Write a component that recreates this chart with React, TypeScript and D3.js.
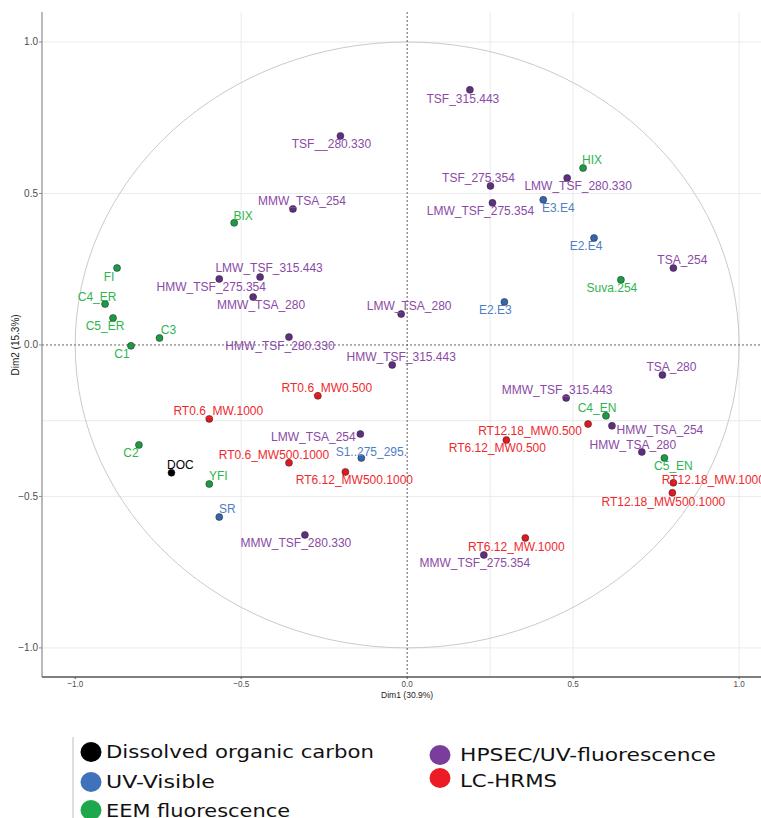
import * as d3 from 'd3'

// variable coordinates on the first two PCA dimensions: [name, Dim1, Dim2]
const docVars: [string, number, number][] = [['DOC', -0.71, -0.422]]

const uvVars: [string, number, number][] = [
  ['E3.E4', 0.41, 0.479],
  ['E2.E4', 0.563, 0.353],
  ['E2.E3', 0.293, 0.142],
  ['S1..275_295.', -0.138, -0.373],
  ['SR', -0.566, -0.568],
]

const eemVars: [string, number, number][] = [
  ['HIX', 0.53, 0.584],
  ['BIX', -0.521, 0.403],
  ['Suva.254', 0.644, 0.215],
  ['FI', -0.874, 0.254],
  ['C4_ER', -0.91, 0.135],
  ['C5_ER', -0.886, 0.089],
  ['C3', -0.746, 0.023],
  ['C1', -0.832, -0.003],
  ['C2', -0.808, -0.33],
  ['YFI', -0.596, -0.459],
  ['C4_EN', 0.599, -0.234],
  ['C5_EN', 0.775, -0.373],
]

const hpsecVars: [string, number, number][] = [
  ['TSF_315.443', 0.189, 0.842],
  ['TSF__280.330', -0.201, 0.69],
  ['TSF_275.354', 0.251, 0.525],
  ['LMW_TSF_280.330', 0.482, 0.551],
  ['LMW_TSF_275.354', 0.257, 0.469],
  ['MMW_TSA_254', -0.344, 0.449],
  ['LMW_TSF_315.443', -0.443, 0.224],
  ['HMW_TSF_275.354', -0.566, 0.218],
  ['MMW_TSA_280', -0.464, 0.158],
  ['LMW_TSA_280', -0.018, 0.102],
  ['HMW_TSF_280.330', -0.356, 0.026],
  ['HMW_TSF_315.443', -0.045, -0.066],
  ['MMW_TSF_315.443', 0.479, -0.175],
  ['TSA_280', 0.769, -0.099],
  ['TSA_254', 0.802, 0.254],
  ['HMW_TSA_254', 0.617, -0.267],
  ['HMW_TSA_280', 0.707, -0.353],
  ['LMW_TSA_254', -0.141, -0.294],
  ['MMW_TSF_280.330', -0.308, -0.627],
  ['MMW_TSF_275.354', 0.231, -0.693],
]

const lcVars: [string, number, number][] = [
  ['RT0.6_MW0.500', -0.269, -0.168],
  ['RT0.6_MW.1000', -0.596, -0.244],
  ['RT0.6_MW500.1000', -0.356, -0.389],
  ['RT6.12_MW500.1000', -0.186, -0.419],
  ['RT12.18_MW0.500', 0.545, -0.261],
  ['RT6.12_MW0.500', 0.299, -0.314],
  ['RT12.18_MW.1000', 0.802, -0.455],
  ['RT12.18_MW500.1000', 0.799, -0.488],
  ['RT6.12_MW.1000', 0.356, -0.637],
]

const groupNames = [
  'Dissolved organic carbon',
  'UV-Visible',
  'EEM fluorescence',
  'HPSEC/UV-fluorescence',
  'LC-HRMS',
]

const axisTicks = [-1, -0.5, 0, 0.5, 1]

// repel-style label nudges in px (dx, dy from the point)
const nudge: Record<string, [number, number]> = {
  'DOC': [9, -8],
  'E3.E4': [15, 8], 'E2.E4': [-8, 8], 'E2.E3': [-9, 8], 'S1..275_295.': [10, -6], 'SR': [8, -8],
  'HIX': [9, -8], 'BIX': [9, -7], 'Suva.254': [-9, 8], 'FI': [-8, 9], 'C4_ER': [-8, -7],
  'C5_ER': [-8, 8], 'C3': [9, -8], 'C1': [-9, 8], 'C2': [-8, 8], 'YFI': [9, -8],
  'C4_EN': [-9, -8], 'C5_EN': [9, 8],
  'TSF_315.443': [-7, 9], 'TSF__280.330': [-9, 8], 'TSF_275.354': [-12, -8],
  'LMW_TSF_280.330': [11, 8], 'LMW_TSF_275.354': [-12, 8], 'MMW_TSA_254': [9, -8],
  'LMW_TSF_315.443': [9, -9], 'HMW_TSF_275.354': [-8, 8], 'MMW_TSA_280': [8, 8],
  'LMW_TSA_280': [8, -8], 'HMW_TSF_280.330': [-9, 9], 'HMW_TSF_315.443': [9, -8],
  'MMW_TSF_315.443': [-9, -8], 'TSA_280': [9, -8], 'TSA_254': [9, -8],
  'HMW_TSA_254': [48, 4], 'HMW_TSA_280': [-9, -7], 'LMW_TSA_254': [-47, 3],
  'MMW_TSF_280.330': [-9, 8], 'MMW_TSF_275.354': [-9, 8],
  'RT0.6_MW0.500': [9, -8], 'RT0.6_MW.1000': [9, -8], 'RT0.6_MW500.1000': [-15, -8],
  'RT6.12_MW500.1000': [9, 8], 'RT12.18_MW0.500': [-58, 7], 'RT6.12_MW0.500': [-9, 8],
  'RT12.18_MW.1000': [40, -3], 'RT12.18_MW500.1000': [-9, 9], 'RT6.12_MW.1000': [-9, 9],
}

const groups = [
  { vars: docVars, dot: '#000000', text: '#000000', key: '#000000' },
  { vars: uvVars, dot: '#3565ad', text: '#4f80c6', key: '#3f72ba' },
  { vars: eemVars, dot: '#1c9a45', text: '#2db54e', key: '#1ea84c' },
  { vars: hpsecVars, dot: '#5f2f80', text: '#8a4aa6', key: '#7b3d9b' },
  { vars: lcVars, dot: '#e01820', text: '#ee2a2e', key: '#eb1c25' },
]

const W = 761
const H = 818
const panel = { left: 42, right: 761, top: 12, bottom: 677 }

export default function App() {
  const x = d3.scaleLinear().domain([-1.1, 1.066]).range([panel.left, panel.right])
  const y = d3.scaleLinear().domain([-1.096, 1.099]).range([panel.bottom, panel.top])
  const font = '"Liberation Sans", Arial, sans-serif'

  const legendPos = [
    { cx: 91, cy: 752, tx: 106, ty: 758, w: 268 },
    { cx: 91, cy: 782, tx: 106, ty: 788, w: 109 },
    { cx: 91, cy: 810, tx: 106, ty: 817, w: 184 },
    { cx: 440, cy: 755, tx: 460, ty: 761, w: 256 },
    { cx: 440, cy: 778, tx: 460, ty: 787, w: 97 },
  ]

  return (
    <svg width={W} height={H} style={{ position: 'absolute', left: 0, top: 0, background: '#fff' }} fontFamily={font}>
      <defs>
        <clipPath id="panel">
          <rect x={panel.left} y={panel.top} width={panel.right - panel.left} height={panel.bottom - panel.top} />
        </clipPath>
      </defs>

      {/* grid lines */}
      {[-0.5, 0.25, 0.5, 1].map(v => (
        <line key={'gx' + v} x1={x(v)} x2={x(v)} y1={panel.top} y2={panel.bottom} stroke="#ebebeb" />
      ))}
      {[1, 0.5, -0.25, -0.5, -1].map(v => (
        <line key={'gy' + v} x1={panel.left} x2={panel.right} y1={y(v)} y2={y(v)} stroke="#ebebeb" />
      ))}

      {/* correlation circle */}
      <ellipse cx={x(0)} cy={y(0)} rx={x(1) - x(0)} ry={y(0) - y(1)} fill="none" stroke="#c4c4c4" strokeWidth={0.9} />

      {/* zero lines */}
      <line x1={x(0)} x2={x(0)} y1={panel.top} y2={panel.bottom} stroke="#333" strokeWidth={0.8} strokeDasharray="2,2" />
      <line x1={panel.left} x2={panel.right} y1={y(0)} y2={y(0)} stroke="#555" strokeWidth={0.9} strokeDasharray="2,2" />

      {/* points and labels */}
      <g clipPath="url(#panel)">
        {groups.map((g, gi) =>
          g.vars.map(([name, d1, d2]) => (
            <circle key={gi + name} cx={x(d1)} cy={y(d2)} r={3.5} fill={g.dot} stroke="#222" strokeWidth={0.5} />
          ))
        )}
        {groups.map((g, gi) =>
          g.vars.map(([name, d1, d2]) => {
            const [dx, dy] = nudge[name] || [0, -8]
            return (
              <text key={'l' + gi + name} x={x(d1) + dx} y={y(d2) + dy} textAnchor="middle" dominantBaseline="central"
                fontSize={12} fill={g.text}>
                {name}
              </text>
            )
          })
        )}
      </g>

      {/* axes */}
      <line x1={panel.left} x2={panel.left} y1={panel.top} y2={panel.bottom} stroke="#8c8c8c" strokeWidth={1.2} />
      <line x1={panel.left} x2={panel.right} y1={panel.bottom} y2={panel.bottom} stroke="#555" strokeWidth={1.6} />
      {axisTicks.map(v => (
        <g key={'ty' + v}>
          <line x1={panel.left - 3} x2={panel.left} y1={y(v)} y2={y(v)} stroke="#8c8c8c" />
          <text x={panel.left - 4} y={y(v)} textAnchor="end" dominantBaseline="central" fontSize={10} fill="#4d4d4d">
            {d3.format('.1f')(v)}
          </text>
        </g>
      ))}
      {axisTicks.map(v => (
        <g key={'tx' + v}>
          <line x1={x(v)} x2={x(v)} y1={panel.bottom} y2={panel.bottom + 2} stroke="#555" />
          <text x={x(v)} y={panel.bottom + 7} textAnchor="middle" dominantBaseline="central" fontSize={9.5} fill="#4d4d4d"
            transform={`translate(${x(v)},0) scale(0.85,1) translate(${-x(v)},0)`}>
            {d3.format('.1f')(v)}
          </text>
        </g>
      ))}
      <text x={x(0)} y={695} textAnchor="middle" dominantBaseline="central" fontSize={9.5} fill="#222"
        transform={`translate(${x(0)},0) scale(0.9,1) translate(${-x(0)},0)`}>
        Dim1 (30.9%)
      </text>
      <text transform={`translate(15,${y(0)}) rotate(-90)`} textAnchor="middle" dominantBaseline="central" fontSize={10} fill="#222">
        Dim2 (15.3%)
      </text>

      {/* legend */}
      <line x1={73} x2={73} y1={737} y2={H} stroke="#c8c8c8" strokeWidth={1.2} />
      {groupNames.map((name, i) => {
        const p = legendPos[i]
        return (
          <g key={name}>
            <ellipse cx={p.cx} cy={p.cy} rx={10.5} ry={10} fill={groups[i].key} />
            <text x={p.tx} y={p.ty} fontSize={18} fontFamily='"DejaVu Sans", Verdana, sans-serif' fill="#111"
              textLength={p.w} lengthAdjust="spacingAndGlyphs">
              {name}
            </text>
          </g>
        )
      })}
    </svg>
  )
}
